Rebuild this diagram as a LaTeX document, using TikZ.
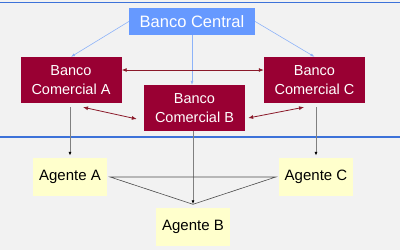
\documentclass[tikz,border=0pt]{standalone}
\usepackage{fontspec}
\setmainfont{Liberation Sans}
\usetikzlibrary{arrows.meta}
\definecolor{bg}{HTML}{F2F2F2}
\definecolor{cblue}{HTML}{6699FF}
\definecolor{bred}{HTML}{990033}
\definecolor{ayel}{HTML}{FFFFCC}
\definecolor{lineblue}{HTML}{3D72D9}
\definecolor{arrblue}{HTML}{8DB3F9}
\definecolor{arrred}{HTML}{8B1A2A}
\tikzset{
  central/.style={fill=cblue,text=white,minimum width=126pt,minimum height=27pt,inner sep=0pt,font=\fontsize{16.5}{19}\selectfont},
  bank/.style={fill=bred,text=white,minimum width=101pt,minimum height=46pt,inner sep=0pt,align=center,font=\fontsize{14.5}{19.5}\selectfont},
  agent/.style={fill=ayel,text=black,minimum width=74pt,minimum height=38pt,inner sep=0pt,font=\fontsize{15}{18}\selectfont},
  bluearr/.style={draw=arrblue,line width=0.6pt,-{Latex[length=4pt,width=3pt]}},
  redarr/.style={draw=arrred,line width=0.8pt,{Latex[length=5pt,width=4pt]}-{Latex[length=5pt,width=4pt]}},
  grayarr/.style={draw=gray,line width=0.8pt,-{Latex[length=4pt,width=3pt,black]}},
  tri/.style={draw=black!70,line width=0.6pt},
  sep/.style={draw=lineblue,line width=1.6pt}
}
\begin{document}
\begin{tikzpicture}[x=1pt,y=-1pt]
\fill[bg] (0,0) rectangle (400,250);
\useasboundingbox (0,0) rectangle (400,250);
\coordinate (tl) at (0,2.5); \coordinate (tr) at (400,2.5);
\coordinate (ml) at (0,137); \coordinate (mr) at (400,137);
\draw[sep] (tl) -- (tr);
\draw[sep] (ml) -- (mr);
\node[central] (cen) at (192,21.5) {Banco Central};
\node[bank] (A) at (71,80) {Banco\\Comercial A};
\node[bank] (C) at (314.5,80) {Banco\\Comercial C};
\node[bank] (B) at (194.5,108) {Banco\\Comercial B};
\node[agent] (agA) at (70,177) {Agente A};
\node[agent] (agC) at (316,177) {Agente C};
\node[agent] (agB) at (193,226.5) {Agente B};
\draw[bluearr] (cen.west) -- (A.north);
\draw[bluearr] (cen.east) -- (C.north);
\draw[bluearr] (cen.south) -- (cen.south |- B.north);
\draw[redarr] ([yshift=10pt]A.east) -- ([yshift=10pt]C.west);
\draw[redarr] ([xshift=12pt,yshift=-4pt]A.south) -- ([xshift=-7pt,yshift=-11pt]B.west);
\draw[redarr] ([xshift=3pt,yshift=-10pt]B.east) -- ([xshift=-10.5pt,yshift=-4pt]C.south);
\draw[grayarr] ([yshift=-4pt]A.south -| agA.north) -- ([yshift=2pt]agA.north);
\draw[grayarr] ([yshift=-4pt]C.south -| agC.north) -- ([yshift=2pt]agC.north);
\draw[grayarr] (B.south -| agB.north) -- ([yshift=3pt]agB.north);
\draw[tri] ([xshift=3pt]agA.east) -- ([xshift=-3pt]agC.west) -- ([yshift=3pt]agB.north) -- cycle;
\end{tikzpicture}
\end{document}
